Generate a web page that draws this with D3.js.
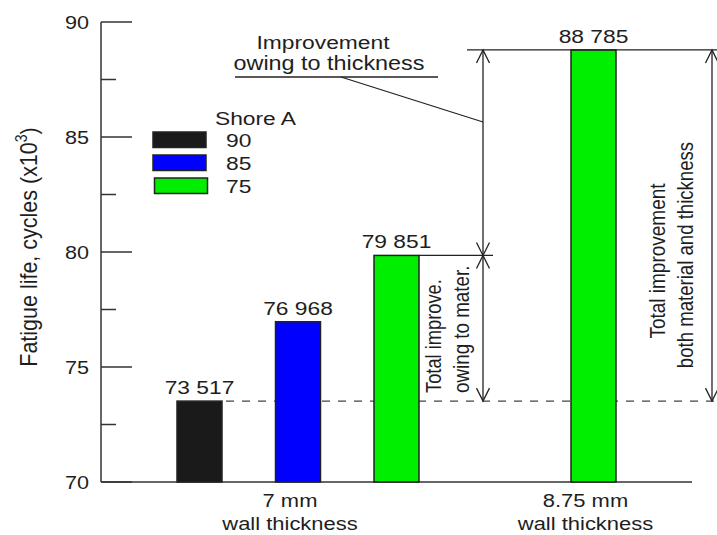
<!DOCTYPE html>
<html>
<head>
<meta charset="utf-8">
<script src="https://cdn.jsdelivr.net/npm/d3@7"></script>
<style>
  body { margin: 0; background: #fff; }
  text { font-family: "Liberation Sans", Arial, sans-serif; fill: #1e1e1e; }
</style>
</head>
<body>
<svg id="chart" width="717" height="535"></svg>
<script>
// data
const shoreA = ["90", "85", "75"];
const colors = ["#1a1a1a", "#0000ff", "#00ee00"];
const barPos = [1, 2, 3, 5];          // slot on the x axis
const barShore = [0, 1, 2, 2];        // index into shoreA
const barValues = [73.517, 76.968, 79.851, 88.785];
const barLabels = ["73 517", "76 968", "79 851", "88 785"];
const groupPos = [2, 5];
const groupLabels = [["7 mm", "wall thickness"], ["8.75 mm", "wall thickness"]];
const yTicks = [70, 75, 80, 85, 90];
const yMinor = [72.5, 77.5, 82.5, 87.5];

const svg = d3.select("#chart");
const axisColor = "#333";
const stretch = 1.2;   // glyphs in the original are drawn wide

const y = d3.scaleLinear().domain([70, 90]).range([482, 22]);
const x = d3.scaleLinear().domain([0, 6]).range([101, 692]);
const barW = 45;

// text helper: horizontal stretch, optional rotation
function label(tx, ty, str, size, anchor, rot) {
  return svg.append("text")
    .attr("transform", `translate(${tx},${ty}) scale(${stretch},1)` + (rot ? " rotate(-90)" : ""))
    .attr("text-anchor", anchor || "start")
    .attr("font-size", size)
    .text(str);
}

// axes
svg.append("line").attr("x1", 101).attr("x2", 101).attr("y1", y(90)).attr("y2", y(70))
  .attr("stroke", axisColor).attr("stroke-width", 1.5);
svg.append("line").attr("x1", 101).attr("x2", 692).attr("y1", y(70)).attr("y2", y(70))
  .attr("stroke", axisColor).attr("stroke-width", 1.5);

svg.selectAll(".major").data(yTicks).enter().append("line")
  .attr("x1", 101).attr("x2", 132).attr("y1", d => y(d)).attr("y2", d => y(d))
  .attr("stroke", axisColor).attr("stroke-width", 1.5);
svg.selectAll(".minor").data(yMinor).enter().append("line")
  .attr("x1", 101).attr("x2", 116).attr("y1", d => y(d)).attr("y2", d => y(d))
  .attr("stroke", axisColor).attr("stroke-width", 1.5);
yTicks.forEach(d => label(89, y(d) + 6.5, d, 18, "end"));

const yl = svg.append("text")
  .attr("transform", `translate(37,247) scale(1.12,1) rotate(-90)`)
  .attr("text-anchor", "middle").attr("font-size", 21.5);
yl.append("tspan").text("Fatigue life, cycles (x10");
yl.append("tspan").attr("font-size", 14).attr("dy", -9).text("3");
yl.append("tspan").attr("dy", 9).text(")");

// dashed baseline at first bar value
svg.append("line").attr("x1", x(1) + barW / 2 + 4).attr("x2", 717)
  .attr("y1", y(barValues[0])).attr("y2", y(barValues[0]))
  .attr("stroke", "#444").attr("stroke-width", 1.2).attr("stroke-dasharray", "8,8");

// bars
svg.selectAll(".bar").data(barValues).enter().append("rect")
  .attr("x", (d, i) => x(barPos[i]) - barW / 2)
  .attr("y", d => y(d))
  .attr("width", barW)
  .attr("height", d => y(70) - y(d))
  .attr("fill", (d, i) => colors[barShore[i]])
  .attr("stroke", "#222").attr("stroke-width", 1.5);

barLabels.forEach((t, i) => label(x(barPos[i]), y(barValues[i]) - 7, t, 19, "middle"));

// group labels
groupLabels.forEach((g, i) => {
  label(x(groupPos[i]) - 8, 507, g[0], 18.3, "middle");
  label(x(groupPos[i]) - 8, 530, g[1], 18.3, "middle");
});

// legend
label(215, 125, "Shore A", 19);
const swatchY = [132, 155, 178];
shoreA.forEach((s, i) => {
  svg.append("rect").attr("x", 153 + (i === 2 ? 1.5 : 0)).attr("y", swatchY[i])
    .attr("width", 53).attr("height", 15.5)
    .attr("fill", colors[i]).attr("stroke", "#222").attr("stroke-width", 1.5);
  label(226, swatchY[i] + 15, s, 19);
});

// annotation lines
const lineStyle = sel => sel.attr("stroke", "#222").attr("stroke-width", 1.3).attr("fill", "none");
function hline(x1, x2, yy) {
  svg.append("line").attr("x1", x1).attr("x2", x2).attr("y1", yy).attr("y2", yy).call(lineStyle);
}
function arrow(xx, y1, y2) {
  svg.append("line").attr("x1", xx).attr("x2", xx).attr("y1", y1).attr("y2", y2).call(lineStyle);
  const a = 6.5, l = 13;
  svg.append("path").attr("d", `M${xx - a},${y1 + l}L${xx},${y1}L${xx + a},${y1 + l}`).call(lineStyle);
  svg.append("path").attr("d", `M${xx - a},${y2 - l}L${xx},${y2}L${xx + a},${y2 - l}`).call(lineStyle);
}

const xa = 483, xb = 712;
hline(x(3) + barW / 2, 493, y(barValues[2]));
hline(467, 717, y(barValues[3]));
arrow(xa, y(barValues[3]), y(barValues[2]));
arrow(xa, y(barValues[2]), y(barValues[0]));
arrow(xb, y(barValues[3]), y(barValues[0]));

// leader for thickness note
label(323, 49, "Improvement", 19, "middle");
label(329, 70, "owing to thickness", 19.5, "middle");
hline(235, 438, 77);
svg.append("line").attr("x1", 341).attr("y1", 77).attr("x2", xa).attr("y2", 122).call(lineStyle);

// rotated notes
label(441, 393, "Total improve.", 18.3, "start", true);
label(469, 393, "owing to mater.", 18.8, "start", true);
label(665, 261, "Total improvement", 19, "middle", true);
label(693, 255, "both material and thickness", 18.6, "middle", true);
</script>
</body>
</html>
